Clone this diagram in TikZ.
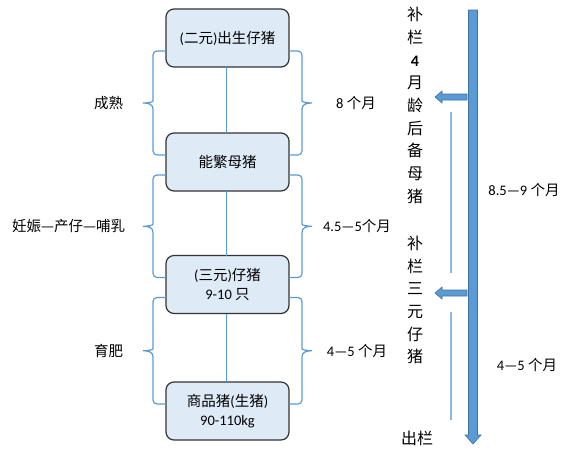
\documentclass[tikz,border=0pt]{standalone}
\usepackage{fontspec}
\setmainfont{Carlito}
\newfontfamily\cjk{Noto Sans CJK SC}
\usetikzlibrary{positioning,calc}
\definecolor{boxfill}{HTML}{DEEBF7}
\definecolor{linkblue}{HTML}{5B9BD5}
\definecolor{arrowedge}{HTML}{41719C}

\begin{document}
\begin{tikzpicture}[x=1pt,y=-1pt,every node/.style={outer sep=0pt,inner sep=0pt},
 stage/.style={draw=black!80,line width=1.2pt,rounded corners=8pt,fill=boxfill,
 minimum width=123pt,minimum height=58pt,align=center,
 font=\fontsize{14.5}{19}\selectfont},
 conn/.style={color=linkblue,line width=1.3pt},
 brace/.style={draw=linkblue,line width=1.2pt,rounded corners=4pt},
 lab/.style={font=\fontsize{14.5}{17}\selectfont},
 col/.style={align=center,font=\fontsize{16}{22.7}\selectfont\cjk},
 span/.style={draw=linkblue!70,line width=1.2pt},
 bigarrow/.style={fill=linkblue,draw=arrowedge,line width=0.6pt},
 blockarrow/.pic={\filldraw[bigarrow] (0,0) -- (7,-6) -- (7,-3) -- (32,-3)
 -- (32,3) -- (7,3) -- (7,6) -- cycle;}]
 \useasboundingbox (0,0) rectangle (578,459);

  \node[stage] (b1) at (227.5,38) {({\cjk 二元}){\cjk 出生仔猪}};
  \node[stage,below=66pt of b1] (b2) {\cjk 能繁母猪};
  \node[stage,below=64.5pt of b2] (b3) {({\cjk 三元}){\cjk 仔猪}\\9-10 {\cjk 只}};
  \node[stage,below=68.5pt of b3] (b4) {{\cjk 商品猪}({\cjk 生猪})\\90-110kg};

  \foreach \a/\b/\n in {b1/b2/1,b2/b3/2,b3/b4/3}
  {\draw[conn] ([xshift=-1pt]\a.south) -- ([xshift=-1pt]\b.north);
   \foreach \s/\an/\side in {-1/west/l,1/east/r}
   {\path ([yshift=-13pt]\a.\an) coordinate (s) ([yshift=7pt]\b.\an) coordinate (e)
     ($(s)!0.5!(e)$) coordinate (m);
    \draw[brace] (s) -| ($(m)+(\s*13,-6)$) [sharp corners]
     .. controls ($(m)+(\s*13,-1)$) and ($(m)+(\s*18,0)$) .. ($(m)+(\s*23,0)$)
     coordinate (tip\side\n)
     .. controls ($(m)+(\s*18,0)$) and ($(m)+(\s*13,1)$) .. ($(m)+(\s*13,6)$)
     [rounded corners=4pt] |- (e);
   }
  }

  \node[lab,left=20pt of tipl1] (mature) {\cjk 成熟};
  \node[lab,left=18pt of tipl2] (breed) {\cjk 妊娠—产仔—哺乳};
  \node[lab,left=20pt of tipl3] (fatten) {\cjk 育肥};
  \node[lab] (t1) at ($(tipr1)+(44,0)$) {8 {\cjk 个月}};
  \node[lab] (t2) at ($(tipr2)+(45,0)$) {4.5—5{\cjk 个月}};
  \node[lab] (t3) at ($(tipr3)+(45,0)$) {4—5 {\cjk 个月}};

  \node[col] (refill1) at (415,105.5) {补\\栏\\{\normalfont\bfseries 4}\\月\\龄\\后\\备\\母\\猪};
  \node[col] (refill2) at (415,300) {补\\栏\\三\\元\\仔\\猪};
  \node[col] (sell) at (417,438) {出栏};

  \filldraw[bigarrow] (468.5,10) -- (477.5,10) -- (477.5,435) -- (481,435)
   -- (473,444) -- (465,435) -- (468.5,435) -- cycle;
  \pic at (435,97) {blockarrow};
  \pic at (435,293) {blockarrow};

  \draw[span] (451,112) coordinate (s1) -- (451,273) coordinate (e1);
  \draw[span] (451,312) coordinate (s2) -- (451,420) coordinate (e2);

  \node[lab] (whole) at (524,190) {8.5—9 {\cjk 个月}};
  \node[lab] (last) at (527,365) {4—5 {\cjk 个月}};

\end{tikzpicture}
\end{document}
